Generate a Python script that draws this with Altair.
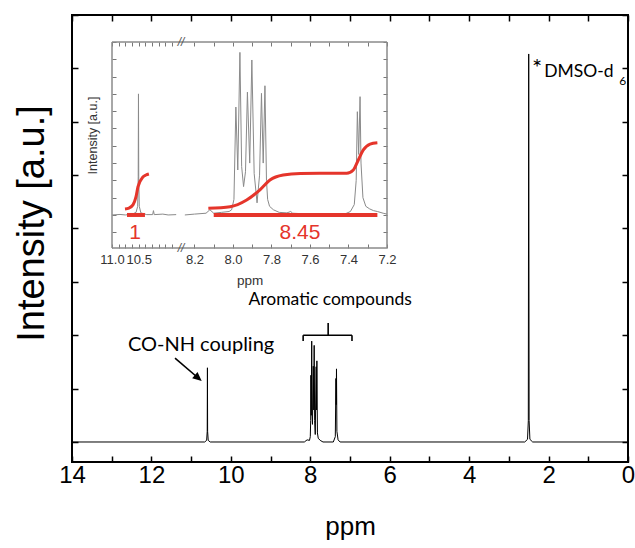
import altair as alt
import pandas as pd

# ---------------- data ----------------
# main 1H NMR spectrum: (ppm, intensity in tick units)
MAIN_SPECTRUM = [
    (14.0, 0.0), (10.66, 0.0), (10.61, 0.03), (10.595, 0.2), (10.59, 1.39), (10.585, 0.2),
    (10.57, 0.03), (10.52, 0.0), (8.15, 0.0), (8.08, 0.04), (8.02, 0.03), (8.0, 0.1),
    (7.99, 0.4), (7.985, 1.25), (7.975, 0.5), (7.964, 1.89), (7.955, 0.5), (7.945, 0.33),
    (7.925, 1.42), (7.913, 0.6), (7.902, 1.81), (7.89, 0.4), (7.875, 0.14), (7.852, 1.41),
    (7.843, 0.6), (7.834, 1.52), (7.82, 0.17), (7.8, 0.07), (7.75, 0.03), (7.68, 0.0),
    (7.42, 0.0), (7.37, 0.1), (7.354, 1.19), (7.347, 0.7), (7.34, 1.37), (7.33, 0.2),
    (7.3, 0.04), (7.25, 0.0), (2.6, 0.0), (2.53, 0.05), (2.51, 0.4), (2.5, 7.27),
    (2.49, 0.4), (2.47, 0.05), (2.4, 0.0), (0.0, 0.0),
]
# inset spectrum, left segment (11.0 - 9.7 ppm)
INSET_LEFT = [
    (11.0, 0.0), (10.85, 0.03), (10.75, 0.0), (10.62, 0.05), (10.55, 0.15), (10.52, 0.5),
    (10.51, 2.2), (10.505, 7.0), (10.5, 2.2), (10.49, 0.5), (10.46, 0.12), (10.35, 0.02),
    (10.24, 0.02), (10.225, 0.25), (10.21, 0.02), (10.05, 0.05), (9.95, 0.0), (9.8, 0.02),
]
# inset spectrum, right segment (8.27 - 7.2 ppm)
INSET_RIGHT = [
    (8.25, 0.0), (8.2, 0.05), (8.14, 0.1), (8.12, 0.3), (8.1, 0.1), (8.06, 0.15),
    (8.02, 0.2), (8.007, 0.3), (7.995, 0.9), (7.985, 6.24), (7.975, 2.6), (7.964, 9.4),
    (7.955, 2.8), (7.945, 1.64), (7.935, 2.5), (7.925, 7.1), (7.913, 3.0), (7.902, 8.96),
    (7.89, 2.4), (7.875, 0.7), (7.862, 2.3), (7.852, 7.03), (7.843, 3.0), (7.834, 7.47),
    (7.826, 2.0), (7.82, 0.9), (7.81, 0.5), (7.79, 0.3), (7.76, 0.15), (7.72, 0.12),
    (7.7, 0.2), (7.69, 0.1), (7.6, 0.05), (7.5, 0.03), (7.42, 0.05), (7.39, 0.2),
    (7.37, 0.6), (7.36, 2.0), (7.354, 5.97), (7.347, 3.5), (7.34, 6.84), (7.335, 3.0),
    (7.325, 1.0), (7.31, 0.5), (7.29, 0.35), (7.27, 0.25), (7.25, 0.2), (7.22, 0.1), (7.2, 0.05),
]
# integral curves
INTEGRAL_LEFT = [
    (10.757, 0.35), (10.683, 0.40), (10.608, 0.58), (10.552, 1.04), (10.515, 1.62),
    (10.422, 2.2), (10.366, 2.31), (10.31, 2.37),
]
INTEGRAL_RIGHT = [
    (8.128, 0.39), (8.015, 0.48), (7.929, 0.87), (7.86, 1.45), (7.808, 2.02), (7.739, 2.31),
    (7.65, 2.4), (7.548, 2.41), (7.409, 2.41), (7.375, 2.6), (7.349, 3.18), (7.323, 3.76),
    (7.288, 4.1), (7.25, 4.18),
]
# integration ranges (from, to) and their values
RANGE_LEFT = (10.72, 10.384)
RANGE_RIGHT = (8.10, 7.25)
INTEGRAL_LABELS = ["1", "8.45"]
INTEGRAL_LABEL_PPM = [10.57, 7.652]

MAIN_X_TICKS = list(range(0, 15))
MAIN_Y_TICKS = list(range(0, 9))
INSET_LEFT_TICKS = [11.0, 10.875, 10.75, 10.625, 10.5, 10.375, 10.25, 10.125, 10.0, 9.875]
INSET_RIGHT_TICKS = [8.2, 8.1, 8.0, 7.9, 7.8, 7.7, 7.6, 7.5, 7.4, 7.3, 7.2]
INSET_Y_TICKS = list(range(-1, 11))

# ---------------- styling ----------------
W, H = 556, 447
SANS = "Liberation Sans"
CAL = "Lato"
GRAY = "#8a8a8a"
RED = "#e5352b"


def pts(pairs):
    return pd.DataFrame(pairs, columns=["ppm", "I"])


MX = alt.Scale(domain=[0, 14], reverse=True, nice=False, zero=False)
MY = alt.Scale(domain=[-0.375, 8], nice=False, zero=False)
LX = alt.Scale(domain=[9.71, 11.0], range=[109, 40], nice=False, zero=False)
RX = alt.Scale(domain=[7.2, 8.27], range=[315, 109], nice=False, zero=False)
IY = alt.Scale(domain=[-1.91, 10], range=[233, 27], nice=False, zero=False)

tick_main = dict(tickSize=6, tickWidth=1.5, tickColor="black", domain=False, grid=False, offset=-6)
tick_in = dict(tickSize=4, tickWidth=1, tickColor="#777777", domain=False, grid=False)

# ---- main spectrum with bottom/left axes ----
main_line = alt.Chart(pts(MAIN_SPECTRUM)).mark_line(color="black", strokeWidth=1).encode(
    x=alt.X("ppm:Q", scale=MX, axis=alt.Axis(
        orient="bottom", values=MAIN_X_TICKS, labelFlush=False,
        labelExpr="datum.value % 2 === 0 ? datum.label : ''",
        labelFont=SANS, labelFontSize=24, labelColor="black", labelPadding=1,
        title="ppm", titleFont=SANS, titleFontSize=26, titleFontWeight="normal",
        titleColor="black", titleBaseline="middle", titleX=278, titleY=70, **tick_main)),
    y=alt.Y("I:Q", scale=MY, axis=alt.Axis(
        orient="left", values=MAIN_Y_TICKS, labels=False,
        title="Intensity [a.u.]", titleFont=SANS, titleFontSize=38, titleFontWeight="normal",
        titleColor="black", titleBaseline="middle", titleAngle=-90, titleX=-46, titleY=208,
        **tick_main)),
)

corner = pts([(0.0, 0.0), (14.0, 0.0)])
top_axis = alt.Chart(corner).mark_point(opacity=0).encode(
    x=alt.X("ppm:Q", scale=MX, axis=alt.Axis(orient="top", values=MAIN_X_TICKS, labels=False,
                                             title=None, **tick_main)),
    y=alt.Y("I:Q", scale=MY, axis=None),
)
right_axis = alt.Chart(corner).mark_point(opacity=0).encode(
    x=alt.X("ppm:Q", scale=MX, axis=None),
    y=alt.Y("I:Q", scale=MY, axis=alt.Axis(orient="right", values=MAIN_Y_TICKS, labels=False,
                                           title=None, **tick_main)),
)

# ---- main annotations ----
def main_text(rows, **kw):
    d = pd.DataFrame(rows, columns=["ppm", "I", "t"])
    return alt.Chart(d).mark_text(**kw).encode(
        x=alt.X("ppm:Q", scale=MX, axis=None),
        y=alt.Y("I:Q", scale=MY, axis=None),
        text="t:N",
    )

txt_conh = main_text([(10.75, 1.82, "CO-NH coupling")], font=CAL, fontSize=20, color="black",
                     align="center", baseline="middle")
txt_arom = main_text([(7.50, 2.66, "Aromatic compounds")], font=CAL, fontSize=17.5, color="black",
                     align="center", baseline="middle")
txt_dmso = main_text([(2.11, 6.93, "DMSO-d")], font=CAL, fontSize=17.5, color="black",
                     align="left", baseline="middle")
txt_star = main_text([(2.29, 6.98, "*")], font=CAL, fontSize=24, color="black",
                     align="center", baseline="middle")
txt_sub = main_text([(0.22, 6.77, "6")], font=CAL, fontSize=12, color="black",
                    align="left", baseline="middle")

seg = pd.DataFrame(
    [(8.18, 2.0, 6.95, 2.0), (8.18, 2.0, 8.18, 1.89), (6.95, 2.0, 6.95, 1.89),
     (7.55, 2.0, 7.55, 2.23), (11.406, 1.573, 10.80, 1.185)],
    columns=["x1", "y1", "x2", "y2"])
bracket = alt.Chart(seg).mark_rule(color="black", strokeWidth=1.6).encode(
    x=alt.X("x1:Q", scale=MX, axis=None), y=alt.Y("y1:Q", scale=MY, axis=None),
    x2="x2:Q", y2="y2:Q",
)
arrow_head = alt.Chart(pts([(10.734, 1.142)])).mark_point(
    shape="M0,0 L-1,-0.45 L-1,0.45 Z", filled=True, color="black", opacity=1,
    size=330, angle=41, strokeWidth=0).encode(
    x=alt.X("ppm:Q", scale=MX, axis=None), y=alt.Y("I:Q", scale=MY, axis=None))

# ---- inset ----
inset_frame = alt.Chart(corner).mark_rect(fillOpacity=0, stroke=GRAY, strokeWidth=1).encode(
    x=alt.value(40), x2=alt.value(315), y=alt.value(27), y2=alt.value(233))

inset_left = alt.Chart(pts(INSET_LEFT)).mark_line(color=GRAY, strokeWidth=1).encode(
    x=alt.X("ppm:Q", scale=LX, axis=alt.Axis(
        orient="bottom", values=INSET_LEFT_TICKS, format=".1f", labelFlush=False,
        labelExpr="(datum.value === 11 || datum.value === 10.5) ? datum.label : ''",
        labelFont=SANS, labelFontSize=13, labelColor="#333333", labelPadding=5,
        title=None, offset=-218, **tick_in)),
    y=alt.Y("I:Q", scale=IY, axis=alt.Axis(
        orient="left", values=INSET_Y_TICKS, labels=False, offset=-44,
        title="Intensity [a.u.]", titleFont=SANS, titleFontSize=12.5, titleFontWeight="normal",
        titleColor="#333333", titleBaseline="middle", titleAngle=-90, titleX=-24, titleY=120,
        **tick_in)),
)
inset_right = alt.Chart(pts(INSET_RIGHT)).mark_line(color=GRAY, strokeWidth=1).encode(
    x=alt.X("ppm:Q", scale=RX, axis=alt.Axis(
        orient="bottom", values=INSET_RIGHT_TICKS, format=".1f", labelFlush=False,
        labelExpr="round(datum.value * 10) % 2 === 0 ? datum.label : ''",
        labelFont=SANS, labelFontSize=13, labelColor="#333333", labelPadding=5,
        title="ppm", titleFont=SANS, titleFontSize=13.5, titleFontWeight="normal",
        titleColor="#333333", titleBaseline="middle", titleX=177.5, titleY=36,
        offset=-218, **tick_in)),
    y=alt.Y("I:Q", scale=IY, axis=alt.Axis(
        orient="right", values=INSET_Y_TICKS, labels=False, title=None, offset=-245, **tick_in)),
)
inset_top_left = alt.Chart(pts([(11.0, 0.0)])).mark_point(opacity=0).encode(
    x=alt.X("ppm:Q", scale=LX, axis=alt.Axis(orient="top", values=INSET_LEFT_TICKS, labels=False,
                                             title=None, offset=-31, **tick_in)),
    y=alt.Y("I:Q", scale=IY, axis=None))
inset_top_right = alt.Chart(pts([(8.0, 0.0)])).mark_point(opacity=0).encode(
    x=alt.X("ppm:Q", scale=RX, axis=alt.Axis(orient="top", values=INSET_RIGHT_TICKS, labels=False,
                                             title=None, offset=-31, **tick_in)),
    y=alt.Y("I:Q", scale=IY, axis=None))

breaks = alt.Chart(pts([(8.27, 10.0), (8.27, -1.91)])).mark_text(
    text="//", font=SANS, fontSize=12, fontStyle="italic", color="#555555",
    align="center", baseline="middle").encode(
    x=alt.X("ppm:Q", scale=RX, axis=None), y=alt.Y("I:Q", scale=IY, axis=None))

int_left = alt.Chart(pts(INTEGRAL_LEFT)).mark_line(color=RED, strokeWidth=3, interpolate="monotone").encode(
    x=alt.X("ppm:Q", scale=LX, axis=None), y=alt.Y("I:Q", scale=IY, axis=None))
int_right = alt.Chart(pts(INTEGRAL_RIGHT)).mark_line(color=RED, strokeWidth=3, interpolate="monotone").encode(
    x=alt.X("ppm:Q", scale=RX, axis=None), y=alt.Y("I:Q", scale=IY, axis=None))

bar_left = alt.Chart(pd.DataFrame({"a": [RANGE_LEFT[0]], "b": [RANGE_LEFT[1]], "I": [0.0]})).mark_rule(
    color=RED, strokeWidth=4).encode(
    x=alt.X("a:Q", scale=LX, axis=None), x2="b:Q", y=alt.Y("I:Q", scale=IY, axis=None))
bar_right = alt.Chart(pd.DataFrame({"a": [RANGE_RIGHT[0]], "b": [RANGE_RIGHT[1]], "I": [0.0]})).mark_rule(
    color=RED, strokeWidth=4).encode(
    x=alt.X("a:Q", scale=RX, axis=None), x2="b:Q", y=alt.Y("I:Q", scale=IY, axis=None))

lab_left = alt.Chart(pd.DataFrame({"ppm": [INTEGRAL_LABEL_PPM[0]], "I": [-1.04], "t": [INTEGRAL_LABELS[0]]})).mark_text(
    font=SANS, fontSize=21, color=RED, align="center", baseline="middle").encode(
    x=alt.X("ppm:Q", scale=LX, axis=None), y=alt.Y("I:Q", scale=IY, axis=None), text="t:N")
lab_right = alt.Chart(pd.DataFrame({"ppm": [INTEGRAL_LABEL_PPM[1]], "I": [-1.04], "t": [INTEGRAL_LABELS[1]]})).mark_text(
    font=SANS, fontSize=21, color=RED, align="center", baseline="middle").encode(
    x=alt.X("ppm:Q", scale=RX, axis=None), y=alt.Y("I:Q", scale=IY, axis=None), text="t:N")

chart = alt.layer(
    main_line, top_axis, right_axis,
    txt_conh, txt_arom, txt_dmso, txt_star, txt_sub, bracket, arrow_head,
    inset_frame, inset_left, inset_right, inset_top_left, inset_top_right,
    int_left, int_right, bar_left, bar_right, lab_left, lab_right, breaks,
).resolve_scale(x="independent", y="independent").resolve_axis(
    x="independent", y="independent"
).properties(
    width=W, height=H,
    autosize=alt.AutoSizeParams(type="none"),
    padding={"left": 72, "top": 15, "right": 7, "bottom": 86},
    background="white",
).configure_view(stroke="black", strokeWidth=2)

chart.save("out.html", embed_options={"renderer": "svg", "actions": False})
